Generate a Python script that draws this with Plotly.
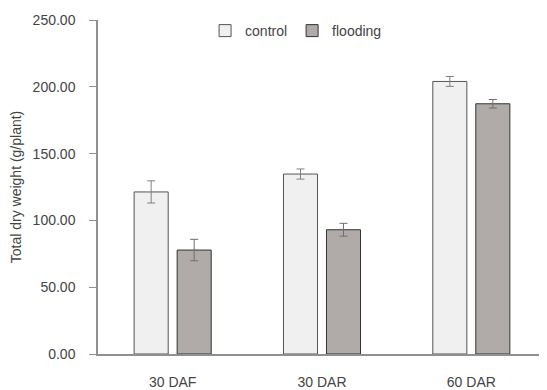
import plotly.graph_objects as go

categories = ["30 DAF", "30 DAR", "60 DAR"]
control = [121.3, 134.7, 204.0]
control_err = [8.3, 3.8, 3.7]
flooding = [77.8, 93.0, 187.3]
flooding_err = [8.0, 4.8, 3.2]
y_ticks = [0, 50, 100, 150, 200, 250]
y_ticklabels = ["0.00", "50.00", "100.00", "150.00", "200.00", "250.00"]

font_family = "Century Gothic, Liberation Sans, Arial, sans-serif"
txt = "#444444"

fig = go.Figure()
fig.add_trace(go.Bar(
    x=categories, y=control, name="control",
    width=0.228, offset=-0.258,
    marker=dict(color="#f0f0f0", line=dict(color="#555555", width=1)),
    error_y=dict(type="data", array=control_err, color="#808080", thickness=1, width=4),
))
fig.add_trace(go.Bar(
    x=categories, y=flooding, name="flooding",
    width=0.228, offset=0.030,
    marker=dict(color="#b0aba8", line=dict(color="#333333", width=1)),
    error_y=dict(type="data", array=flooding_err, color="#707070", thickness=1, width=4),
))

fig.update_layout(
    width=539, height=382,
    margin=dict(l=90, r=1, t=12, b=36),
    paper_bgcolor="white", plot_bgcolor="white",
    barmode="group",
    font=dict(family=font_family, size=14, color=txt),
    showlegend=True,
    legend=dict(orientation="h", x=0.239, y=0.967, xanchor="left", yanchor="middle",
                font=dict(size=14, color=txt), bgcolor="rgba(0,0,0,0)",
                itemwidth=30, traceorder="normal"),
    xaxis=dict(type="category", range=[-0.5, 2.5], showline=True, linecolor="#909090",
               linewidth=1.5, ticks="", showgrid=False, tickfont=dict(size=14, color=txt),
               ticklabelstandoff=14, automargin=False),
    yaxis=dict(range=[0, 250], tickvals=y_ticks, ticktext=y_ticklabels, showline=True,
               linecolor="#909090", linewidth=1.5, ticks="outside", ticklen=7,
               tickcolor="#909090", showgrid=False, zeroline=False,
               tickfont=dict(size=14, color=txt),
               ticklabelstandoff=11, automargin=False,
               title=dict(text="Total dry weight (g/plant)", font=dict(size=14, color=txt),
                          standoff=8)),
)

fig.write_html("out.html")
